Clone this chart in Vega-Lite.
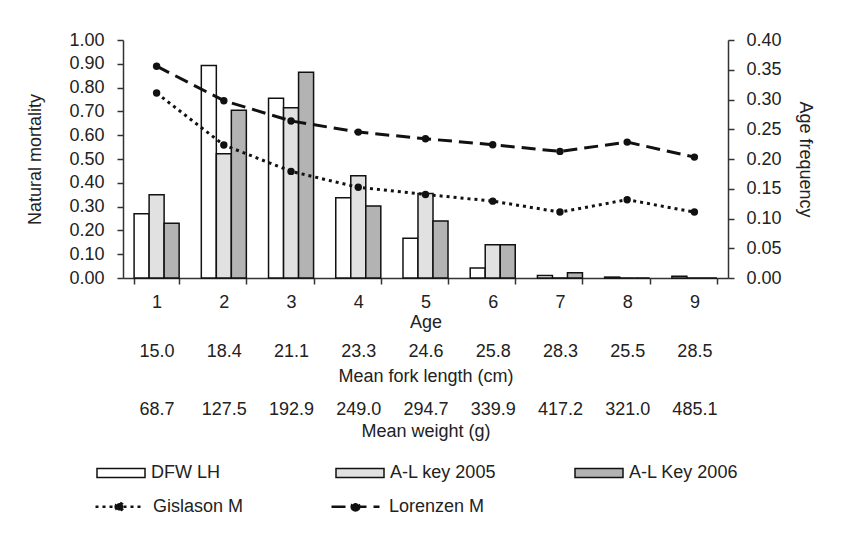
{
  "$schema": "https://vega.github.io/schema/vega-lite/v6.json",
  "padding": {"left": 26, "top": 31, "right": 5, "bottom": 5},
  "background": "#ffffff",
  "datasets": {
    "frequency": [
      {"age": 1, "source": "DFW LH", "freq": 0.108},
      {"age": 1, "source": "A-L key 2005", "freq": 0.140},
      {"age": 1, "source": "A-L Key 2006", "freq": 0.092},
      {"age": 2, "source": "DFW LH", "freq": 0.357},
      {"age": 2, "source": "A-L key 2005", "freq": 0.209},
      {"age": 2, "source": "A-L Key 2006", "freq": 0.282},
      {"age": 3, "source": "DFW LH", "freq": 0.302},
      {"age": 3, "source": "A-L key 2005", "freq": 0.286},
      {"age": 3, "source": "A-L Key 2006", "freq": 0.346},
      {"age": 4, "source": "DFW LH", "freq": 0.135},
      {"age": 4, "source": "A-L key 2005", "freq": 0.172},
      {"age": 4, "source": "A-L Key 2006", "freq": 0.121},
      {"age": 5, "source": "DFW LH", "freq": 0.067},
      {"age": 5, "source": "A-L key 2005", "freq": 0.142},
      {"age": 5, "source": "A-L Key 2006", "freq": 0.096},
      {"age": 6, "source": "DFW LH", "freq": 0.017},
      {"age": 6, "source": "A-L key 2005", "freq": 0.056},
      {"age": 6, "source": "A-L Key 2006", "freq": 0.056},
      {"age": 7, "source": "DFW LH", "freq": 0.004},
      {"age": 7, "source": "A-L key 2005", "freq": 0},
      {"age": 7, "source": "A-L Key 2006", "freq": 0.009},
      {"age": 8, "source": "DFW LH", "freq": 0.0015},
      {"age": 8, "source": "A-L key 2005", "freq": 0},
      {"age": 8, "source": "A-L Key 2006", "freq": 0},
      {"age": 9, "source": "DFW LH", "freq": 0.003},
      {"age": 9, "source": "A-L key 2005", "freq": 0},
      {"age": 9, "source": "A-L Key 2006", "freq": 0}
    ],
    "mortality": [
      {"age": 1, "method": "Gislason M", "M": 0.777},
      {"age": 2, "method": "Gislason M", "M": 0.559},
      {"age": 3, "method": "Gislason M", "M": 0.448},
      {"age": 4, "method": "Gislason M", "M": 0.381},
      {"age": 5, "method": "Gislason M", "M": 0.351},
      {"age": 6, "method": "Gislason M", "M": 0.323},
      {"age": 7, "method": "Gislason M", "M": 0.277},
      {"age": 8, "method": "Gislason M", "M": 0.329},
      {"age": 9, "method": "Gislason M", "M": 0.277},
      {"age": 1, "method": "Lorenzen M", "M": 0.890},
      {"age": 2, "method": "Lorenzen M", "M": 0.745},
      {"age": 3, "method": "Lorenzen M", "M": 0.660},
      {"age": 4, "method": "Lorenzen M", "M": 0.613},
      {"age": 5, "method": "Lorenzen M", "M": 0.585},
      {"age": 6, "method": "Lorenzen M", "M": 0.560},
      {"age": 7, "method": "Lorenzen M", "M": 0.532},
      {"age": 8, "method": "Lorenzen M", "M": 0.571},
      {"age": 9, "method": "Lorenzen M", "M": 0.508}
    ],
    "size": [
      {"age": 1, "length": "15.0", "weight": "68.7"},
      {"age": 2, "length": "18.4", "weight": "127.5"},
      {"age": 3, "length": "21.1", "weight": "192.9"},
      {"age": 4, "length": "23.3", "weight": "249.0"},
      {"age": 5, "length": "24.6", "weight": "294.7"},
      {"age": 6, "length": "25.8", "weight": "339.9"},
      {"age": 7, "length": "28.3", "weight": "417.2"},
      {"age": 8, "length": "25.5", "weight": "321.0"},
      {"age": 9, "length": "28.5", "weight": "485.1"}
    ]
  },
  "bounds": "flush",
  "spacing": 57,
  "resolve": {"scale": {"x": "independent", "y": "independent"}},
  "vconcat": [
    {
      "width": 605,
      "height": 238,
      "layer": [
        {
          "data": {"name": "frequency"},
          "mark": {"type": "bar", "stroke": "#111111", "strokeWidth": 1.5},
          "encoding": {
            "x": {
              "field": "age", "type": "ordinal",
              "scale": {"paddingInner": 0.33, "paddingOuter": 0.165},
              "axis": {"title": "Age", "tickBand": "extent", "labelAngle": 0, "labelPadding": 9, "titlePadding": 2}
            },
            "xOffset": {
              "field": "source", "type": "nominal",
              "sort": ["DFW LH", "A-L key 2005", "A-L Key 2006"],
              "scale": {"paddingInner": 0, "paddingOuter": 0}
            },
            "y": {
              "field": "freq", "type": "quantitative",
              "scale": {"domain": [0, 0.4], "nice": false},
              "axis": {
                "orient": "right", "title": "Age frequency", "format": ".2f",
                "values": [0, 0.05, 0.1, 0.15, 0.2, 0.25, 0.3, 0.35, 0.4],
                "labelPadding": 12, "titlePadding": 14
              }
            },
            "fill": {
              "field": "source", "type": "nominal",
              "scale": {
                "domain": ["DFW LH", "A-L key 2005", "A-L Key 2006"],
                "range": ["#ffffff", "#e1e1e1", "#b3b3b3"]
              },
              "legend": {
                "orient": "none", "legendX": -27, "legendY": 408,
                "direction": "horizontal", "columns": 3, "gridAlign": "all",
                "title": null, "padding": 0,
                "symbolType": "M-1,-0.19H1V0.19H-1Z", "symbolSize": 2304,
                "symbolStrokeColor": "#111111", "symbolStrokeWidth": 1.5,
                "labelOffset": 5, "columnPadding": 72,
                "encode": {"symbols": {"update": {"stroke": {"value": "#111111"}, "strokeWidth": {"value": 1.5}}}}
              }
            }
          }
        },
        {
          "data": {"name": "mortality"},
          "encoding": {
            "x": {"field": "age", "type": "ordinal"},
            "y": {
              "field": "M", "type": "quantitative",
              "scale": {"domain": [0, 1], "nice": false},
              "axis": {
                "orient": "left", "title": "Natural mortality", "format": ".2f",
                "values": [0, 0.1, 0.2, 0.3, 0.4, 0.5, 0.6, 0.7, 0.8, 0.9, 1],
                "labelPadding": 13, "titlePadding": 24
              }
            }
          },
          "layer": [
            {
              "mark": {"type": "line", "color": "#111111", "strokeWidth": 3},
              "encoding": {
                "strokeDash": {
                  "field": "method", "type": "nominal",
                  "scale": {"domain": ["Gislason M", "Lorenzen M"], "range": [[3, 4], [14, 7]]},
                  "legend": {
                    "orient": "none", "legendX": -29, "legendY": 441,
                    "direction": "horizontal", "columns": 2,
                    "title": null, "padding": 0,
                    "symbolType": "M-1,0H1M-0.16,0A0.16,0.16 0 1,0 0.16,0A0.16,0.16 0 1,0 -0.16,0",
                    "symbolSize": 2304, "symbolStrokeWidth": 2.5,
                    "symbolStrokeColor": "#111111", "symbolFillColor": "#111111",
                    "labelOffset": 8, "columnPadding": 82,
                    "encode": {"symbols": {"update": {"fill": {"value": "#111111"}, "stroke": {"value": "#111111"}}}}
                  }
                }
              }
            },
            {
              "mark": {"type": "point", "filled": true, "color": "#111111", "size": 55, "opacity": 1},
              "encoding": {"detail": {"field": "method", "type": "nominal"}}
            }
          ]
        }
      ],
      "resolve": {"scale": {"y": "independent"}}
    },
    {
      "width": 605,
      "height": 1,
      "data": {"name": "size"},
      "mark": {"type": "point", "opacity": 0},
      "encoding": {
        "x": {
          "field": "length", "type": "nominal", "sort": null,
          "scale": {"paddingInner": 0.33, "paddingOuter": 0.165},
          "axis": {"title": "Mean fork length (cm)", "domain": false, "ticks": false, "tickSize": 0, "labelAngle": 0, "labelPadding": 6, "titlePadding": 7}
        }
      }
    },
    {
      "width": 605,
      "height": 1,
      "data": {"name": "size"},
      "mark": {"type": "point", "opacity": 0},
      "encoding": {
        "x": {
          "field": "weight", "type": "nominal", "sort": null,
          "scale": {"paddingInner": 0.33, "paddingOuter": 0.165},
          "axis": {"title": "Mean weight (g)", "domain": false, "ticks": false, "tickSize": 0, "labelAngle": 0, "labelPadding": 6, "titlePadding": 4}
        }
      }
    }
  ],
  "config": {
    "font": "Liberation Sans",
    "view": {"stroke": null},
    "axis": {
      "labelFont": "Liberation Sans", "labelFontSize": 18, "labelColor": "#222222",
      "titleFont": "Liberation Sans", "titleFontSize": 18, "titleFontWeight": "normal", "titleColor": "#222222",
      "domainColor": "#333333", "domainWidth": 1.5,
      "tickColor": "#333333", "tickWidth": 1.5, "tickSize": 6,
      "grid": false
    },
    "legend": {"labelFont": "Liberation Sans", "labelFontSize": 18, "labelColor": "#222222"}
  }
}
